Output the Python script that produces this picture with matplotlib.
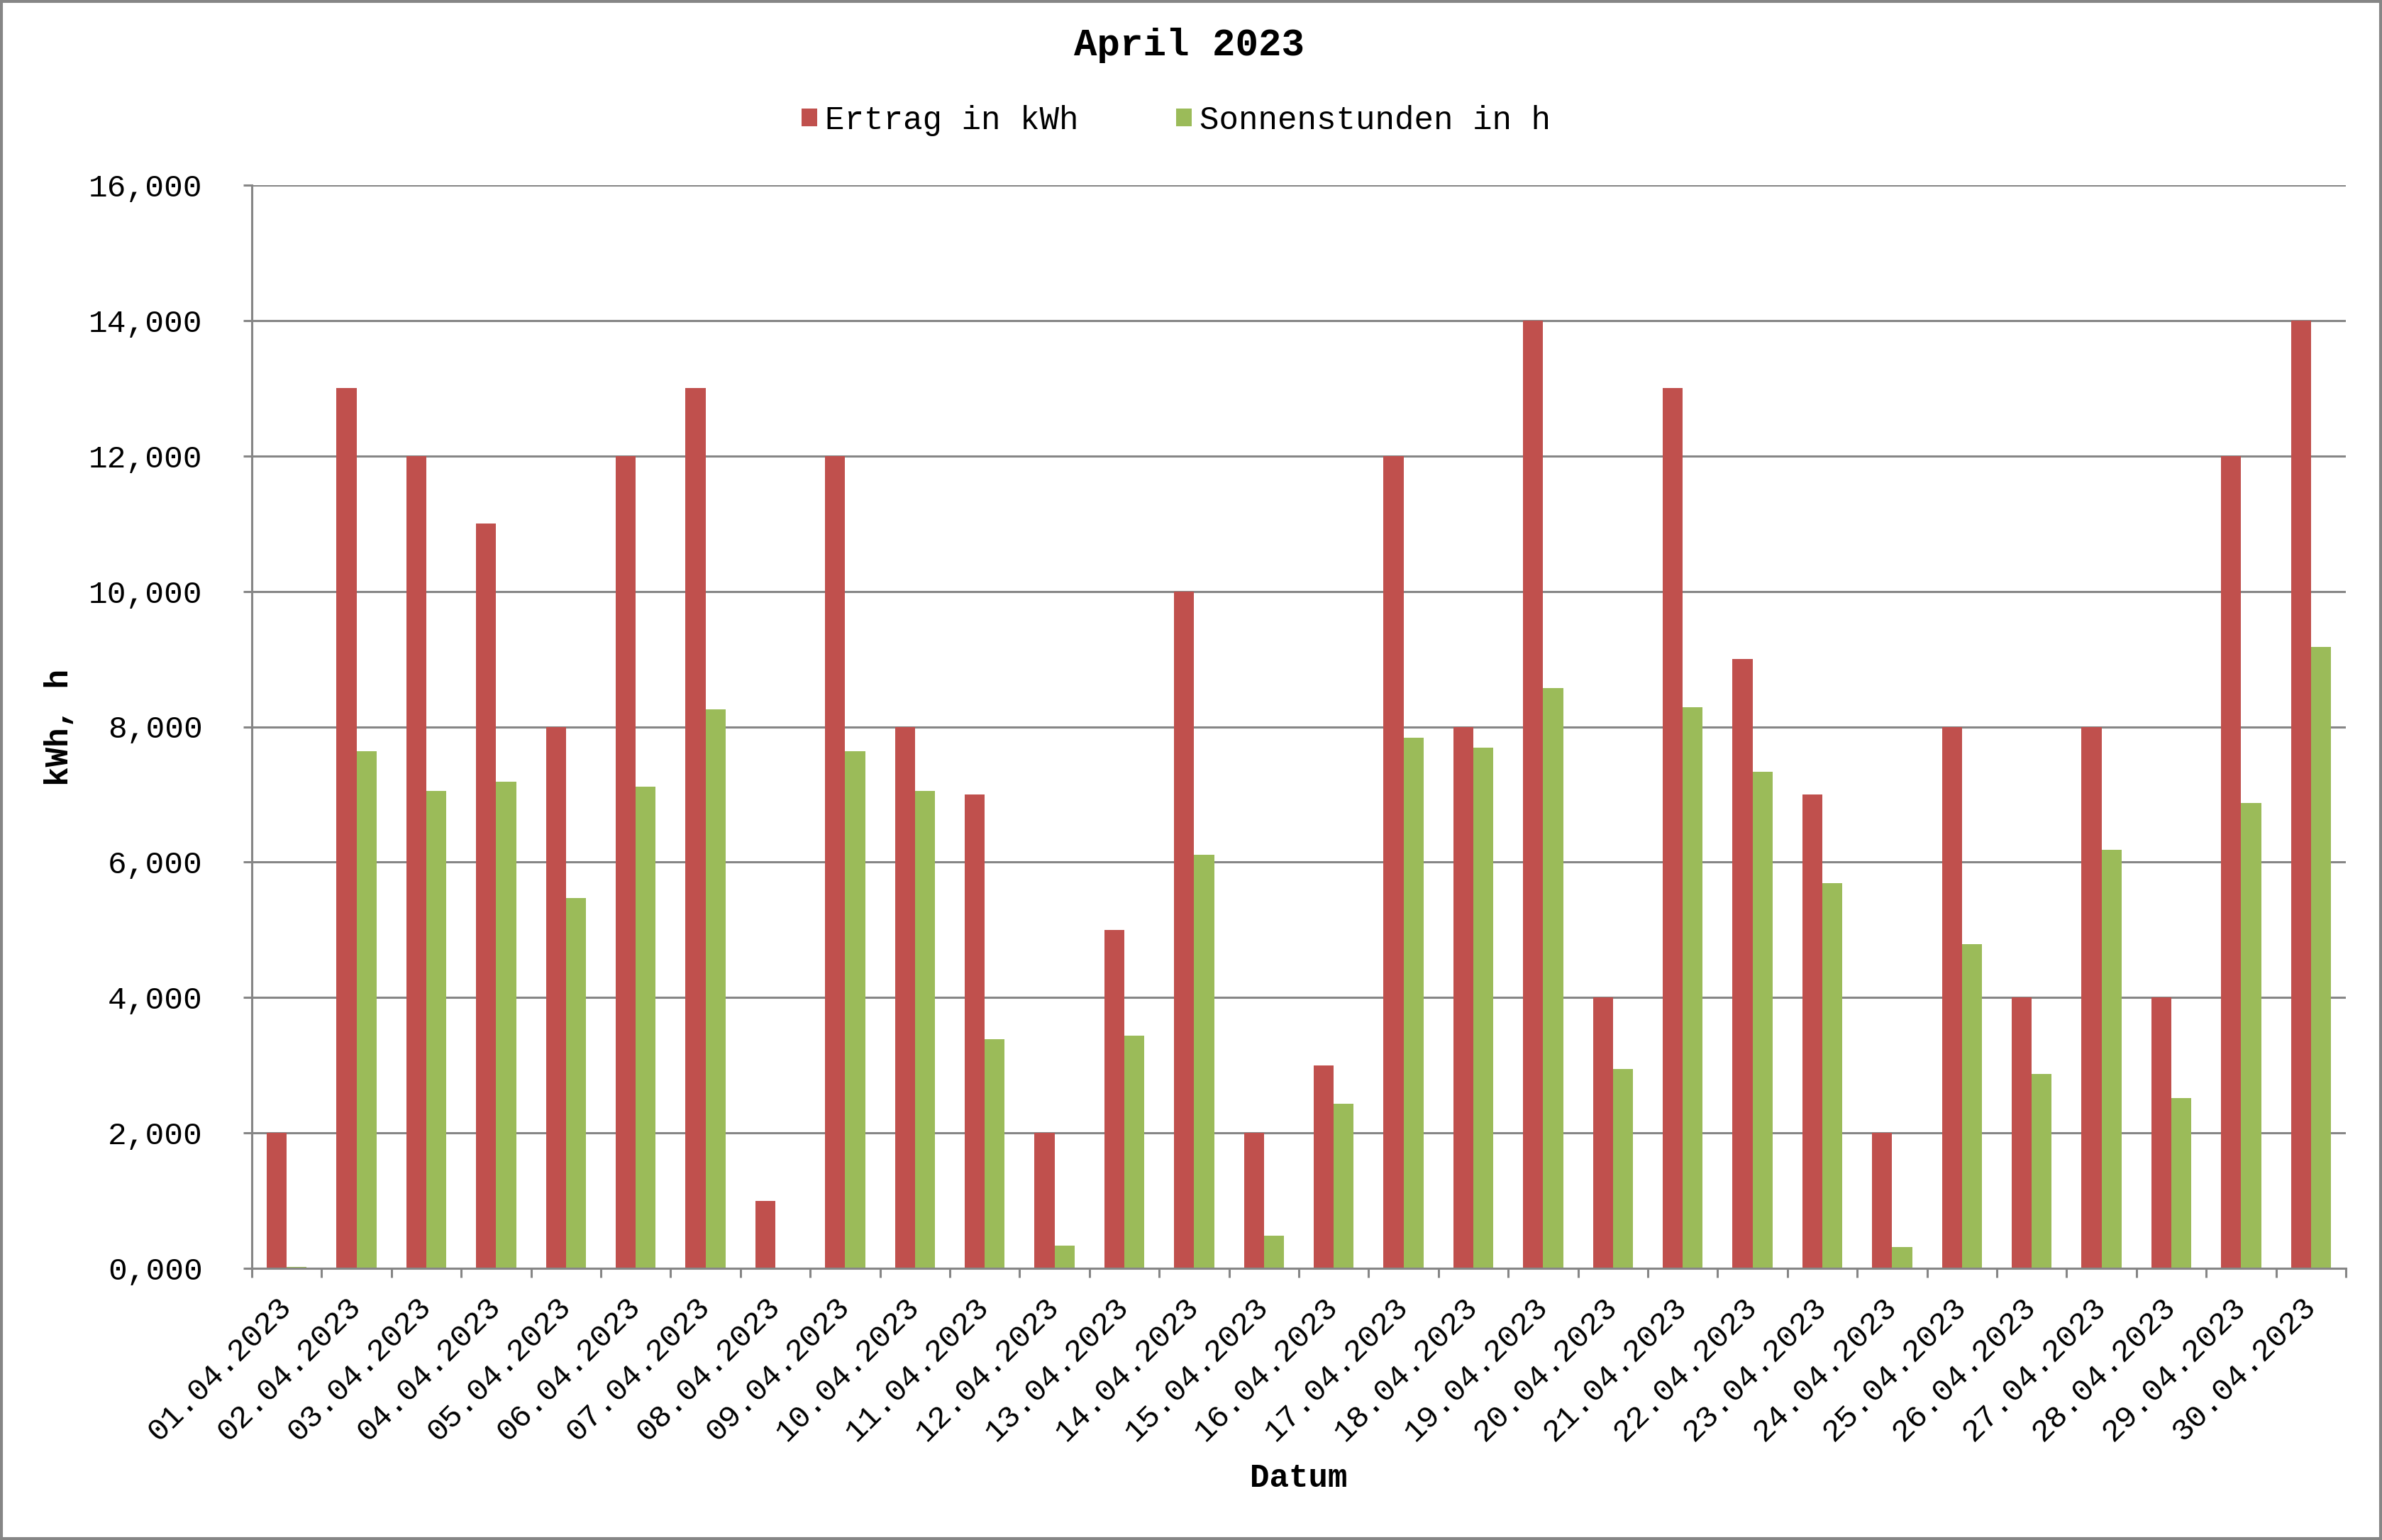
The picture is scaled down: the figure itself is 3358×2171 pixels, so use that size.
import matplotlib
matplotlib.use("Agg")
import matplotlib.pyplot as plt
from matplotlib.patches import Rectangle
from matplotlib.ticker import FuncFormatter, FixedLocator
import numpy as np

dates = [f"{d:02d}.04.2023" for d in range(1, 31)]
ertrag = [2, 13, 12, 11, 8, 12, 13, 1, 12, 8, 7, 2, 5, 10, 2, 3, 12, 8, 14, 4,
          13, 9, 7, 2, 8, 4, 8, 4, 12, 14]
sonne = [0.02, 7.64, 7.05, 7.19, 5.47, 7.11, 8.26, 0.0, 7.64, 7.05, 3.38, 0.34,
         3.44, 6.11, 0.48, 2.43, 7.84, 7.69, 8.57, 2.94, 8.29, 7.33, 5.69, 0.31,
         4.79, 2.87, 6.18, 2.51, 6.87, 9.18]
yticks = [0, 2, 4, 6, 8, 10, 12, 14, 16]

FONT = "Liberation Mono"
plt.rcParams['font.family'] = [FONT, 'DejaVu Sans']

W, H = 3358, 2171
fig = plt.figure(figsize=(W / 100, H / 100), dpi=100)
fig.patch.set_facecolor('white')

L, R, T, B = 355, 3307, 261, 1788
ax = fig.add_axes([L / W, 1 - B / H, (R - L) / W, (B - T) / H])

red = '#C0504D'
green = '#9BBB59'
grid = '#868686'

x = np.arange(len(dates))
bw = 0.286
ax.bar(x - bw / 2, ertrag, width=bw, color=red, label='Ertrag in kWh', zorder=3)
ax.bar(x + bw / 2, sonne, width=bw, color=green, label='Sonnenstunden in h', zorder=3)

ax.set_xlim(-0.5, len(dates) - 0.5)
ax.set_ylim(0, 16)
ax.yaxis.set_major_locator(FixedLocator(yticks))
ax.yaxis.set_major_formatter(FuncFormatter(lambda v, p: f"{v:.3f}".replace('.', ',')))
ax.yaxis.grid(True, color=grid, linewidth=2.2, zorder=0)
ax.set_axisbelow(True)

for s in ['top', 'right']:
    ax.spines[s].set_visible(False)
for s in ['left', 'bottom']:
    ax.spines[s].set_color(grid)
    ax.spines[s].set_linewidth(2.2)
    ax.spines[s].set_zorder(4)

ax.tick_params(axis='y', direction='out', length=9, width=2.2, color=grid,
               labelsize=32, pad=41, labelcolor='black')
ax.set_xticks(x)
ax.set_xticklabels(dates, rotation=45, ha='right', va='center',
                   rotation_mode='anchor', fontsize=32, color='black')
ax.set_xticks(np.arange(-0.5, len(dates), 1.0), minor=True)
ax.tick_params(axis='x', which='major', length=0, pad=34)
ax.tick_params(axis='x', which='minor', direction='out', length=9.4, width=2.2, color=grid)

fig.text(1676 / W, 1 - 64 / H, 'April 2023', ha='center', va='center',
         fontsize=39, fontweight='bold')
fig.text(84 / W, 1 - 1025 / H, 'kWh, h', ha='center', va='center', rotation=90,
         fontsize=33, fontweight='bold')
fig.text(1831 / W, 1 - 2084 / H, 'Datum', ha='center', va='center',
         fontsize=33, fontweight='bold')

fig.legend(loc='center', bbox_to_anchor=(1658 / W, 1 - 170 / H), ncol=2, frameon=False,
           fontsize=33, handlelength=0.47, handleheight=0.47, handletextpad=0.25,
           columnspacing=3.0)

fig.add_artist(Rectangle((0.0005, 0.0008), 0.999, 0.9984, transform=fig.transFigure,
                         fill=False, edgecolor=grid, linewidth=3))

fig.savefig('out.png', dpi=100, facecolor='white')
